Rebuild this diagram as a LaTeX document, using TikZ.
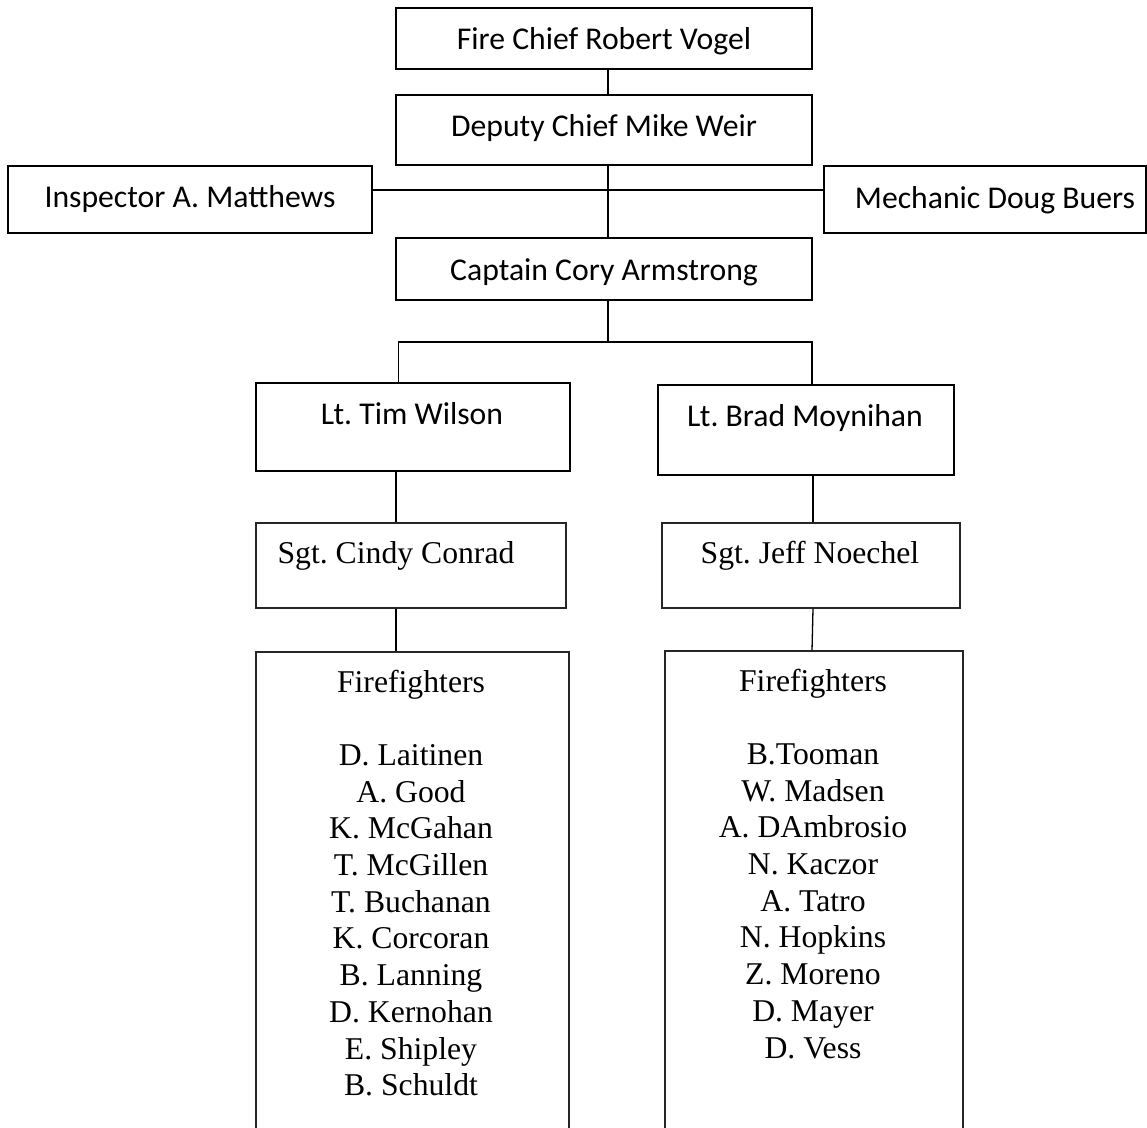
\documentclass[tikz,border=0pt]{standalone}
\usepackage{fontspec}
\newfontfamily\calib{Carlito}
\newfontfamily\tnr{Liberation Serif}
\frenchspacing
\begin{document}
\begin{tikzpicture}[x=1pt,y=-1pt,
  box/.style={draw=black,line width=1.4pt,inner sep=0pt,fill=none},
  thinbox/.style={draw=black!85,line width=1.1pt,inner sep=0pt},
  ltbox/.style={draw=black,line width=1.9pt,inner sep=0pt},
  conn/.style={line width=1.3pt,black},
  sanslbl/.style={inner sep=0pt,anchor=base,font=\frenchspacing\calib\fontsize{31.7}{38}\selectfont},
  seriflbl/.style={inner sep=0pt,anchor=base,font=\frenchspacing\tnr\fontsize{31.7}{36.7}\selectfont}]
\useasboundingbox (0,0) rectangle (1147,1127);
\clip (0,0) rectangle (1147,1127);
\fill[white] (0,0) rectangle (1147,1127);

% boxes
\node[box,minimum width=416pt,minimum height=61pt] (chief) at (604,38.5) {};
\node[box,minimum width=416pt,minimum height=70pt] (deputy) at (604,130) {};
\node[box,minimum width=364pt,minimum height=67pt] (insp) at (190,199.5) {};
\node[box,minimum width=322pt,minimum height=67pt] (mech) at (985,199.5) {};
\node[box,minimum width=416pt,minimum height=62pt] (capt) at (604,269) {};
\node[ltbox,minimum width=314pt,minimum height=88pt] (ltw) at (413,427) {};
\node[ltbox,minimum width=296pt,minimum height=90pt] (ltb) at (806,430) {};
\node[thinbox,minimum width=310pt,minimum height=85pt] (sgc) at (411,565.5) {};
\node[thinbox,minimum width=298pt,minimum height=85pt] (sgj) at (811,565.5) {};
\node[thinbox,minimum width=313pt,minimum height=500pt] (ffl) at (412.5,902) {};
\node[thinbox,minimum width=298pt,minimum height=500pt] (ffr) at (814,901) {};

% texts
\node[sanslbl] (tchief) at (604,49) {Fire Chief Robert Vogel};
\node[sanslbl] (tdeputy) at (604,136) {Deputy Chief Mike Weir};
\node[sanslbl] (tinsp) at (190,207) {Inspector A. Matthews};
\node[sanslbl] (tmech) at (995,208) {Mechanic Doug Buers};
\node[sanslbl] (tcapt) at (604,280) {Captain Cory Armstrong};
\node[sanslbl] (tltw) at (412,424) {Lt. Tim Wilson};
\node[sanslbl] (tltb) at (805,426) {Lt. Brad Moynihan};
\node[seriflbl] (tsgc) at (396,563) {Sgt. Cindy Conrad};
\node[seriflbl] (tsgj) at (810,563) {Sgt. Jeff Noechel};
\node[seriflbl] (tffl) at (411,692) {\renewcommand{\arraystretch}{1}\begin{tabular}[t]{@{}c@{}}Firefighters\\ \\ D. Laitinen\\ A. Good\\ K. McGahan\\ T. McGillen\\ T. Buchanan\\ K. Corcoran\\ B. Lanning\\ D. Kernohan\\ E. Shipley\\ B. Schuldt\end{tabular}};
\node[seriflbl] (tffr) at (813,691) {\renewcommand{\arraystretch}{1}\begin{tabular}[t]{@{}c@{}}Firefighters\\ \\ B.Tooman\\ W. Madsen\\ A. DAmbrosio\\ N. Kaczor\\ A. Tatro\\ N. Hopkins\\ Z. Moreno\\ D. Mayer\\ D. Vess\end{tabular}};

% helper coordinates
\coordinate (spine) at (608,0);
\coordinate (hbar) at (0,190);
\coordinate (lbar) at (0,342);
\coordinate (lx) at (398.5,0);
\coordinate (rx) at (812,0);
\coordinate (lx2) at (396,0);
\coordinate (rx2) at (813,0);

% connectors
\draw[conn] (chief.south -| spine) -- (deputy.north -| spine);
\draw[conn] (deputy.south -| spine) -- (capt.north -| spine);
\draw[conn] (insp.east |- hbar) -- (mech.west |- hbar);
\draw[conn] (capt.south -| spine) -- (spine |- lbar);
\draw[conn] (ltw.north -| lx) -- (lx |- lbar) -- (rx |- lbar) -- (ltb.north -| rx);
\draw[conn] (ltw.south -| lx2) -- (sgc.north -| lx2);
\draw[conn] (sgc.south -| lx2) -- (ffl.north -| lx2);
\draw[conn] (ltb.south -| rx2) -- (sgj.north -| rx2);
\draw[conn] (sgj.south -| rx2) -- (ffr.north -| rx);
\end{tikzpicture}
\end{document}
